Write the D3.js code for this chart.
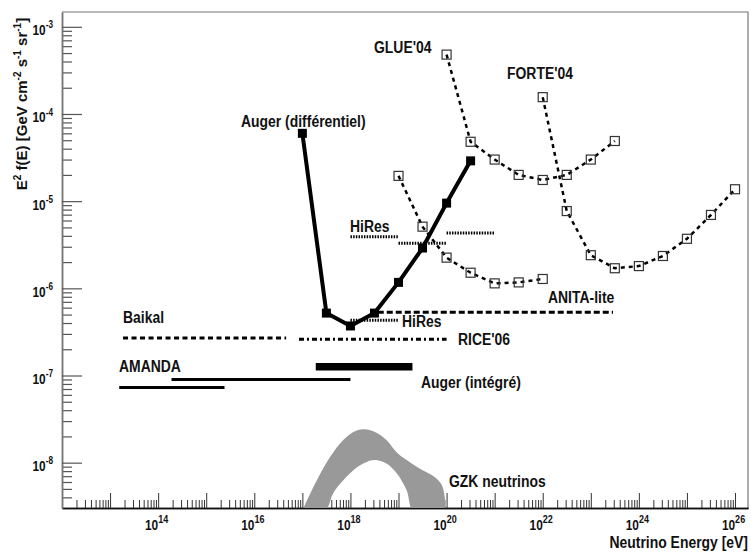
<!DOCTYPE html>
<html><head><meta charset="utf-8">
<script src="https://cdn.jsdelivr.net/npm/d3@7"></script>
<style>
html,body{margin:0;padding:0;background:#fff;}
svg{display:block;}
text{font-family:"Liberation Sans",Arial,Helvetica,sans-serif;font-weight:bold;fill:#111;}
</style></head><body>
<svg id="c" width="751" height="556"></svg>
<script>
// ---------- data ----------
const augerDiffE = [1e17, 3.16e17, 1e18, 3.16e18, 1e19, 3.16e19, 1e20, 3.16e20];
const augerDiffF = [6.0e-5, 5.2e-7, 3.7e-7, 5.2e-7, 1.17e-6, 2.9e-6, 9.5e-6, 2.9e-5];

const glueE = [1e20, 3.16e20, 1e21, 3.16e21, 1e22, 3.16e22, 1e23, 3.16e23];
const glueF = [4.8e-4, 4.8e-5, 3.0e-5, 2.0e-5, 1.75e-5, 2.0e-5, 3.0e-5, 4.9e-5];

const forteE = [1e22, 3.16e22, 1e23, 3.16e23, 1e24, 3.16e24, 1e25, 3.16e25, 1e26];
const forteF = [1.56e-4, 7.7e-6, 2.4e-6, 1.7e-6, 1.8e-6, 2.35e-6, 3.7e-6, 6.95e-6, 1.37e-5];

const anitaDiffE = [1e19, 3.16e19, 1e20, 3.16e20, 1e21, 3.16e21, 1e22];
const anitaDiffF = [1.95e-5, 5.1e-6, 2.25e-6, 1.51e-6, 1.14e-6, 1.17e-6, 1.28e-6];

const baikalE = [1.86e13, 4.6e16];      const baikalF = 2.7e-7;
const riceE = [8.5e16, 1.0e20];         const riceF = 2.6e-7;
const anitaLiteE = [3.7e18, 2.9e23];    const anitaLiteF = 5.3e-7;
const hiresIntE = [1e18, 1e19];         const hiresIntF = 4.3e-7;
const hiresDiffEdges = [1e18, 1e19, 1e20, 1e21];
const hiresDiffF = [3.9e-6, 3.3e-6, 4.3e-6];
const amanda1E = [1.9e14, 1e18];        const amanda1F = 9.0e-8;
const amanda2E = [1.55e13, 2.4e15];     const amanda2F = 7.3e-8;
const augerIntE = [1.9e17, 1.95e19];    const augerIntF = 1.26e-7;

const gzkUpperE = [1.0e17, 1.05e17, 2.0e17, 3.8e17, 7.1e17, 1.35e18, 2.2e18, 3.55e18, 5.6e18, 9.1e18, 1.48e19, 2.8e19, 4.9e19, 7.2e19, 8.5e19, 8.5e19];
const gzkUpperF = [2.8e-9, 3.0e-9, 6.3e-9, 1.17e-8, 1.82e-8, 2.34e-8, 2.4e-8, 2.19e-8, 1.82e-8, 1.32e-8, 1.07e-8, 8.5e-9, 7.2e-9, 6.0e-9, 5.0e-9, 2.8e-9];
const gzkLowerE = [2.95e17, 4.4e17, 7.1e17, 1.35e18, 2.2e18, 3.2e18, 5.6e18, 9.1e18, 1.48e19, 2.05e19];
const gzkLowerF = [2.8e-9, 4.5e-9, 6.3e-9, 8.8e-9, 1.02e-8, 1.07e-8, 9.8e-9, 7.6e-9, 4.8e-9, 2.8e-9];

const xTickExps = [14, 16, 18, 20, 22, 24, 26];
const yTickExps = [-3, -4, -5, -6, -7, -8];

// ---------- layout ----------
const L = 62, R = 748, T = 12, B = 508;
const NARROW = 0.82;
const svg = d3.select("#c");
const x = d3.scaleLog().domain([1e12, Math.pow(10, 26.27)]).range([L, R]);
const y = d3.scaleLog().domain([Math.pow(10, -8.52), Math.pow(10, -2.83)]).range([B, T]);

svg.append("defs").append("clipPath").attr("id", "clip")
  .append("rect").attr("x", L).attr("y", T).attr("width", R - L).attr("height", B - T);

// frame top/right
svg.append("path").attr("d", `M${L},${T}H${R}V${B}`).attr("fill", "none").attr("stroke", "#777").attr("stroke-width", 1.2);

// ticks values
const xMinor = [], xMajor = [];
for (let d = 12; d <= 26; d++) {
  if (d > 12) xMajor.push(Math.pow(10, d));
  for (let k = 2; k <= 9; k++) { const v = k * Math.pow(10, d); if (v < x.domain()[1]) xMinor.push(v); }
}
const yMinor = [], yMajor = [];
for (let d = -9; d <= -3; d++) {
  if (d >= -8) yMajor.push(Math.pow(10, d));
  for (let k = 2; k <= 9; k++) { const v = k * Math.pow(10, d); if (v > y.domain()[0] * 1.01 && v < y.domain()[1]) yMinor.push(v); }
}

// x axis
const gx = svg.append("g").attr("transform", `translate(0,${B})`);
gx.append("g").call(d3.axisBottom(x).tickValues(xMinor).tickSize(-8).tickSizeOuter(0).tickFormat(""));
gx.append("g").call(d3.axisBottom(x).tickValues(xMajor).tickSize(-15).tickSizeOuter(0).tickFormat(""));
gx.selectAll(".tick line").attr("stroke", "#333").attr("stroke-width", 1);
gx.selectAll(".domain").attr("stroke", "#111").attr("stroke-width", 1.5);

// y axis
const gy = svg.append("g").attr("transform", `translate(${L},0)`);
gy.append("g").call(d3.axisLeft(y).tickValues(yMinor).tickSize(-10).tickSizeOuter(0).tickFormat(""));
gy.append("g").call(d3.axisLeft(y).tickValues(yMajor).tickSize(-20).tickSizeOuter(0).tickFormat(""));
gy.selectAll(".tick line").attr("stroke", "#555").attr("stroke-width", 1.2);
gy.selectAll(".domain").attr("stroke", "#777").attr("stroke-width", 1.5);

function ntext(px, py, size, anchor) {
  return svg.append("text").attr("transform", `translate(${px},${py}) scale(${NARROW},1)`)
    .attr("text-anchor", anchor || "start").style("font-size", size + "px");
}

// tick labels
xTickExps.forEach(e => {
  const t = ntext(x(Math.pow(10, e)) - 1.5, 530, 14.5, "middle");
  t.append("tspan").text("10");
  t.append("tspan").attr("dy", -7).style("font-size", "11px").text(String(e));
});
yTickExps.forEach(e => {
  const t = ntext(53, y(Math.pow(10, e)) + 8.5, 14.5, "end");
  t.append("tspan").text("10");
  t.append("tspan").attr("dy", -7).style("font-size", "10px").text(String(e));
});

// axis titles
ntext(748, 548, 17, "end").text("Neutrino Energy [eV]");
const yt = svg.append("text").attr("transform", "translate(27,104) rotate(-90)")
  .attr("text-anchor", "middle").style("font-size", "15px");
yt.append("tspan").text("E");
yt.append("tspan").attr("dy", -6).style("font-size", "10px").text("2");
yt.append("tspan").attr("dy", 6).text(" f(E) [GeV cm");
yt.append("tspan").attr("dy", -6).style("font-size", "10px").text("-2");
yt.append("tspan").attr("dy", 6).text(" s");
yt.append("tspan").attr("dy", -6).style("font-size", "10px").text("-1");
yt.append("tspan").attr("dy", 6).text(" sr");
yt.append("tspan").attr("dy", -6).style("font-size", "10px").text("-1");
yt.append("tspan").attr("dy", 6).text("]");

const plot = svg.append("g").attr("clip-path", "url(#clip)");

// GZK band
const gzkPts = gzkUpperE.map((e, i) => [e, gzkUpperF[i]])
  .concat(gzkLowerE.map((e, i) => [e, gzkLowerF[i]]).reverse());
plot.append("path")
  .attr("d", d3.line().x(d => x(d[0])).y(d => y(d[1])).curve(d3.curveCatmullRomClosed)(gzkPts))
  .attr("fill", "#999").attr("stroke", "none");

// horizontal segments
function hseg(E, F, w, dash, color) {
  plot.append("line").attr("x1", x(E[0])).attr("x2", x(E[1])).attr("y1", y(F)).attr("y2", y(F))
    .attr("stroke", color || "#000").attr("stroke-width", w).attr("stroke-dasharray", dash || null);
}
hseg(baikalE, baikalF, 3, "5,3.5");
hseg(riceE, riceF, 3, "5,3,2,3");
hseg(anitaLiteE, anitaLiteF, 3, "6,3");
hseg(hiresIntE, hiresIntF, 3, "1.5,1.2");
hiresDiffF.forEach((f, i) => hseg([hiresDiffEdges[i], hiresDiffEdges[i + 1]], f, 3, "1.5,1.2"));
hseg(amanda1E, amanda1F, 3);
hseg(amanda2E, amanda2F, 3);
hseg(augerIntE, augerIntF, 7.5);

// dashed series with open squares
function openSeries(E, F) {
  const pts = E.map((e, i) => [x(e), y(F[i])]);
  plot.append("path").attr("d", d3.line()(pts)).attr("fill", "none")
    .attr("stroke", "#000").attr("stroke-width", 2.5).attr("stroke-dasharray", "4,4");
  plot.selectAll(null).data(pts).enter().append("rect")
    .attr("x", d => d[0] - 4.5).attr("y", d => d[1] - 4.5).attr("width", 9).attr("height", 9)
    .attr("fill", "none").attr("stroke", "#333").attr("stroke-width", 1.2);
}
openSeries(glueE, glueF);
openSeries(forteE, forteF);
openSeries(anitaDiffE, anitaDiffF);

// Auger differential
const aPts = augerDiffE.map((e, i) => [x(e), y(augerDiffF[i])]);
plot.append("path").attr("d", d3.line()(aPts)).attr("fill", "none")
  .attr("stroke", "#000").attr("stroke-width", 4).attr("stroke-linejoin", "round");
plot.selectAll(null).data(aPts).enter().append("rect")
  .attr("x", d => d[0] - 4.5).attr("y", d => d[1] - 4.5).attr("width", 9).attr("height", 9)
  .attr("fill", "#000");

// labels
const labels = [
  ["GLUE'04", 374, 53], ["FORTE'04", 507, 79], ["Auger (différentiel)", 241, 127],
  ["HiRes", 350, 232], ["HiRes", 402, 327], ["RICE'06", 458, 345],
  ["Auger (intégré)", 421, 388], ["ANITA-lite", 548, 303], ["Baikal", 123, 323],
  ["AMANDA", 119, 372], ["GZK neutrinos", 449, 487]
];
labels.forEach(l => ntext(l[1], l[2], 17).text(l[0]));
</script>
</body></html>
